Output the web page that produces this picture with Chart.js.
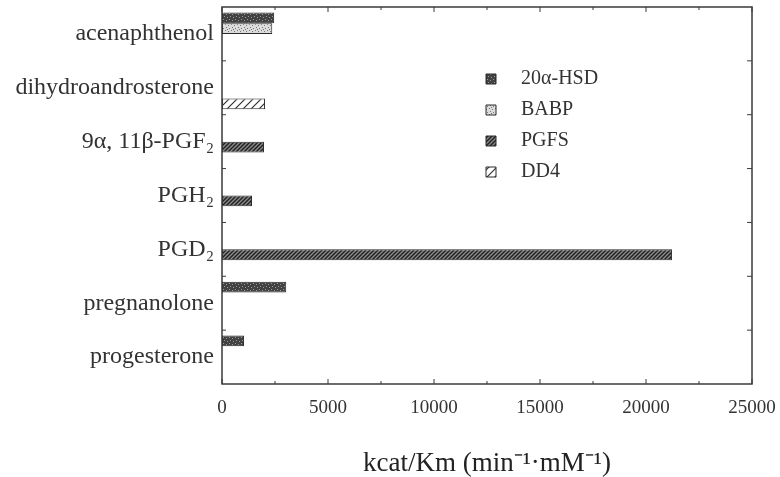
<!DOCTYPE html>
<html>
<head>
<meta charset="utf-8">
<script src="https://cdn.jsdelivr.net/npm/chart.js@4.4.1/dist/chart.umd.min.js"></script>
<style>
html,body{margin:0;padding:0;background:#fff;overflow:hidden;}
</style>
</head>
<body>
<canvas id="grafico" width="780" height="477"></canvas>
<script>
// Dados
const categorias = ['acenaphthenol','dihydroandrosterone','9α, 11β-PGF₂','PGH₂','PGD₂','pregnanolone','progesterone'];
const hsd20a = [2460, null, null, null, null, 3030, 1040];
const babp   = [2370, null, null, null, null, null, null];
const pgfs   = [null, null, 1980, 1415, 21230, null, null];
const dd4    = [null, 2030, null, null, null, null, null];
const xMax = 25000;
const xStep = 5000;
const tituloX = 'kcat/Km (min⁻¹·mM⁻¹)';

const ctx = document.getElementById('grafico').getContext('2d');
Chart.defaults.font.family = "'Liberation Serif','Times New Roman',serif";
Chart.defaults.color = '#333';

// Texturas das barras
function textura(size, draw){
    const c = document.createElement('canvas');
    c.width = size; c.height = size;
    draw(c.getContext('2d'), size);
    return ctx.createPattern(c, 'repeat');
}
function pontos(g, cor, lista){
    g.fillStyle = cor;
    lista.forEach(p => g.fillRect(p[0], p[1], 1, 1));
}
function diagonal(g, s, fundo, cor, w){
    g.fillStyle = fundo; g.fillRect(0,0,s,s);
    g.strokeStyle = cor; g.lineWidth = w;
    g.beginPath();
    g.moveTo(-1,1); g.lineTo(1,-1);
    g.moveTo(0,s); g.lineTo(s,0);
    g.moveTo(s-1,s+1); g.lineTo(s+1,s-1);
    g.stroke();
}
const texHsd = textura(6, (g,s)=>{ g.fillStyle='#424242'; g.fillRect(0,0,s,s); pontos(g,'#9a9a9a',[[1,1],[4,2],[2,4],[5,5]]); });
const texBabp = textura(6, (g,s)=>{ g.fillStyle='#dcdcdc'; g.fillRect(0,0,s,s); pontos(g,'#767676',[[0,1],[3,0],[4,3],[1,4],[5,5]]); });
const texPgfs = textura(4, (g,s)=> diagonal(g, s, '#8c8c8c', '#222222', 1.5));
const texDd4 = textura(8, (g,s)=> diagonal(g, s, '#ffffff', '#333333', 1.2));

// Moldura e marcas internas dos eixos
const moldura = {
    id: 'moldura',
    afterDatasetsDraw(chart){
        const {ctx:c, chartArea:a, scales:{x,y}} = chart;
        c.save();
        c.strokeStyle = '#3a3a3a'; c.lineWidth = 1.5;
        c.strokeRect(a.left, a.top, a.right-a.left, a.bottom-a.top);
        c.lineWidth = 1;
        c.beginPath();
        for(let v=0; v<=xMax; v+=xStep/2){
            const px = x.getPixelForValue(v);
            const len = v % xStep === 0 ? 5 : 3;
            c.moveTo(px, a.bottom); c.lineTo(px, a.bottom-len);
            c.moveTo(px, a.top); c.lineTo(px, a.top+len);
        }
        for(let i=1; i<categorias.length; i++){
            const py = y.getPixelForValue(i-0.5);
            c.moveTo(a.left, py); c.lineTo(a.left+4, py);
            c.moveTo(a.right, py); c.lineTo(a.right-5, py);
        }
        c.stroke();
        c.restore();
    }
};

// Legenda dentro do grafico
const posLegenda = {
    id: 'posLegenda',
    afterLayout(chart){
        const l = chart.legend;
        l.left = 475; l.top = 58; l.right = 720; l.bottom = 340;
    }
};

function serie(label, data, tex){
    return { label, data, backgroundColor: tex, borderColor: '#2a2a2a', borderWidth: 1, borderSkipped: false };
}

new Chart(ctx, {
    type: 'bar',
    data: {
        labels: categorias,
        datasets: [
            serie('20α-HSD', hsd20a, texHsd),
            serie('BABP', babp, texBabp),
            serie('PGFS', pgfs, texPgfs),
            serie('DD4', dd4, texDd4)
        ]
    },
    options: {
        indexAxis: 'y',
        responsive: false,
        animation: false,
        datasets: { bar: { categoryPercentage: 0.8, barPercentage: 1.0 } },
        layout: { padding: { top: 7, right: 28, bottom: 0, left: 0 } },
        plugins: {
            tooltip: { enabled: false },
            legend: {
                position: 'chartArea',
                align: 'start',
                labels: {
                    boxWidth: 10, boxHeight: 10, padding: 11,
                    font: { size: 20 }, color: '#333',
                    generateLabels(chart){
                        return Chart.defaults.plugins.legend.labels.generateLabels(chart).map(it => { it.text = '   ' + it.text; return it; });
                    }
                }
            }
        },
        scales: {
            x: {
                min: 0, max: xMax,
                grid: { display: false, drawTicks: false },
                border: { display: false },
                ticks: { stepSize: xStep, font: { size: 19 }, color: '#333', padding: 13, maxRotation: 0, callback: v => String(v) },
                title: { display: true, text: tituloX, font: { size: 27, lineHeight: 1 }, color: '#222', padding: { top: 0, bottom: 0 } },
                afterFit(s){ s.height = 93; s.paddingLeft = 0; s.paddingRight = 0; }
            },
            y: {
                grid: { display: false, drawTicks: false },
                border: { display: false },
                ticks: { font: { size: 24 }, color: '#333', padding: 8, autoSkip: false },
                afterFit(s){ s.width = 222; s.paddingTop = 0; s.paddingBottom = 0; }
            }
        }
    },
    plugins: [moldura, posLegenda]
});
</script>
</body>
</html>
